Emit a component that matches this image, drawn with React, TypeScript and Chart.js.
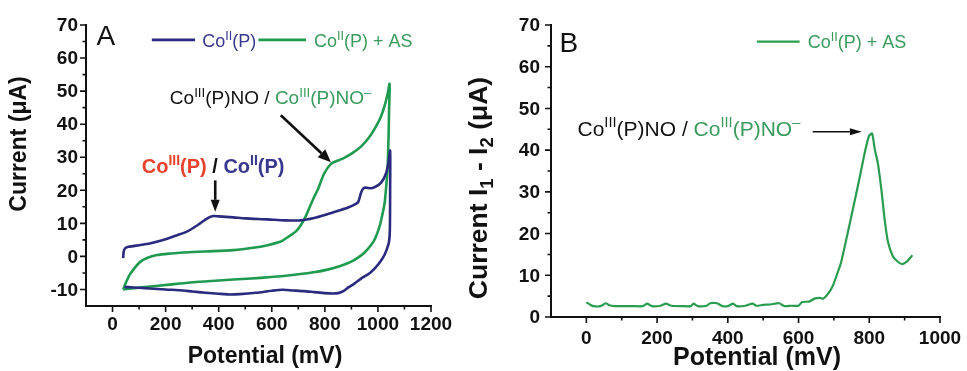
import React, { useEffect, useRef } from "react";
import { Chart, registerables } from "chart.js";

Chart.register(...registerables);

// ---------------- data ----------------
// Panel A : cyclic voltammograms
const A_X_TICKS = [0, 200, 400, 600, 800, 1000, 1200];
const A_X_MINOR = [100, 300, 500, 700, 900, 1100];
const A_Y_TICKS = [-10, 0, 10, 20, 30, 40, 50, 60, 70];
const A_Y_MINOR = [-5, 5, 15, 25, 35, 45, 55, 65];

const BLUE_POTENTIAL = [40, 42, 48, 60, 100, 140, 200, 243, 280, 304, 330, 357, 380, 400, 455, 500, 584, 650, 710, 760, 800, 850, 888, 915, 926, 937, 945, 955, 975, 990, 1013, 1030, 1040, 1046,
  1046, 1045, 1042, 1035, 1025, 1010, 990, 970, 940, 910, 890, 870, 850, 830, 800, 760, 720, 680, 640, 600, 540, 480, 440, 400, 350, 300, 266, 200, 140, 100, 60, 45];
const BLUE_CURRENT = [-0.5, 1.5, 2.5, 2.9, 3.4, 3.9, 5.2, 6.4, 7.5, 8.6, 10, 11.5, 12.2, 12.1, 11.8, 11.5, 11.2, 10.9, 10.9, 11.6, 12.5, 13.8, 14.8, 15.8, 16.5, 19.4, 20.6, 20.8, 20.6, 21, 22.4, 25, 28.5, 32,
  20, 8, 4.5, 2.5, 0.5, -1.5, -3.5, -5, -6.5, -8.3, -9.3, -10.5, -11.1, -11.2, -11.1, -10.8, -10.5, -10.3, -10.1, -10.4, -11, -11.4, -11.5, -11.3, -11, -10.6, -10.3, -10, -9.7, -9.5, -9.3, -9.2];

const GREEN_POTENTIAL = [40, 50, 65, 85, 102, 130, 167, 220, 266, 350, 455, 530, 584, 634, 660, 690, 710, 730, 759, 775, 797, 823, 850, 873, 905, 937, 965, 987, 1010, 1025, 1036, 1044,
  1042, 1040, 1036, 1030, 1025, 1015, 1006, 990, 975, 950, 926, 900, 861, 810, 759, 700, 634, 558, 455, 400, 304, 205, 120, 60, 40];
const GREEN_CURRENT = [-10, -8, -5.5, -3.3, -1.8, -0.5, 0.4, 0.9, 1.2, 1.5, 1.9, 2.6, 3.4, 4.5, 5.8, 7.5, 9.5, 12.5, 17.9, 20.5, 25, 28, 29, 29.8, 31.3, 33.3, 35.8, 38.5, 42, 45.5, 49, 52.2,
  44, 36, 26, 20, 16, 12, 9, 5.5, 3.5, 1.2, -0.3, -1.6, -2.8, -4, -4.8, -5.4, -6, -6.5, -7, -7.3, -7.8, -8.6, -9.3, -9.8, -10];

// Panel B : difference current
const B_X_TICKS = [0, 200, 400, 600, 800, 1000];
const B_X_MINOR = [100, 300, 500, 700, 900];
const B_Y_TICKS = [0, 10, 20, 30, 40, 50, 60, 70];
const B_Y_MINOR = [5, 15, 25, 35, 45, 55, 65];

const DIFF_POTENTIAL = [0, 10, 20, 40, 55, 65, 80, 100, 130, 160, 172, 185, 210, 225, 240, 270, 295, 303, 315, 340, 350, 370, 385, 400, 415, 425, 450, 470, 480, 500, 520, 545, 560, 580, 600, 610, 630, 645, 660, 670, 685, 697, 710, 720, 736, 754, 773, 785, 793, 800, 808, 816, 824, 835, 844, 853, 867, 880, 892, 905, 922];
const DIFF_CURRENT = [3.5, 3.0, 2.6, 2.6, 3.3, 2.8, 2.6, 2.6, 2.6, 2.6, 3.2, 2.6, 2.7, 3.2, 2.7, 2.6, 2.6, 3.2, 2.6, 2.7, 3.3, 3.3, 2.6, 2.6, 3.2, 2.6, 2.7, 3.2, 2.7, 2.9, 3.0, 3.3, 2.6, 2.7, 2.7, 3.6, 3.7, 4.4, 4.6, 4.4, 5.8, 7.5, 10.5, 13, 19, 26, 33.5, 38.5, 41.5, 43.5, 44, 40, 37, 30, 23, 18, 14.5, 13.3, 12.7, 13.2, 14.8];

// ---------------- styling ----------------
const FAM = "'Liberation Sans', Arial, Helvetica, sans-serif";
const INK = "#111111";
const BLUE = "#2a2a7e";
const BLUE_TXT = "#37378e";
const GREEN = "#1f9a4f";
const GREEN_B = "#2a9c4f";
const GREEN_TXT = "#3a9b5c";
const RED = "#e8412c";

type Seg = { t: string; c: string; s?: "sup" | "sub" };

function segWidth(ctx: CanvasRenderingContext2D, seg: Seg, size: number, bold: boolean) {
  const sz = seg.s ? size * 0.7 : size;
  ctx.font = `${bold ? "bold " : ""}${sz}px ${FAM}`;
  return ctx.measureText(seg.t).width;
}

function drawRich(ctx: CanvasRenderingContext2D, segs: Seg[], x: number, y: number, size: number, bold: boolean, align: "left" | "center" = "left") {
  const widths = segs.map((s) => segWidth(ctx, s, size, bold));
  const total = widths.reduce((a, b) => a + b, 0);
  let cx = align === "center" ? x - total / 2 : x;
  ctx.textBaseline = "alphabetic";
  ctx.textAlign = "left";
  segs.forEach((s, i) => {
    const sz = s.s ? size * 0.7 : size;
    ctx.font = `${bold ? "bold " : ""}${sz}px ${FAM}`;
    ctx.fillStyle = s.c;
    const dy = s.s === "sup" ? -size * 0.4 : s.s === "sub" ? size * 0.22 : 0;
    ctx.fillText(s.t, cx, y + dy);
    cx += widths[i];
  });
  return total;
}

function drawArrow(ctx: CanvasRenderingContext2D, x1: number, y1: number, x2: number, y2: number, lw: number, headLen: number, headW: number) {
  const ang = Math.atan2(y2 - y1, x2 - x1);
  const bx = x2 - Math.cos(ang) * headLen;
  const by = y2 - Math.sin(ang) * headLen;
  ctx.strokeStyle = INK;
  ctx.fillStyle = INK;
  ctx.lineWidth = lw;
  ctx.beginPath();
  ctx.moveTo(x1, y1);
  ctx.lineTo(bx, by);
  ctx.stroke();
  const px = -Math.sin(ang) * headW / 2;
  const py = Math.cos(ang) * headW / 2;
  ctx.beginPath();
  ctx.moveTo(x2, y2);
  ctx.lineTo(bx + px, by + py);
  ctx.lineTo(bx - px, by - py);
  ctx.closePath();
  ctx.fill();
}

// tick marks + bold tick labels, all from the scales
function drawAxes(chart: any, xMaj: number[], xMin: number[], yMaj: number[], yMin: number[], xLabelDy: number, yLabelDx: number) {
  const { ctx, chartArea, scales } = chart;
  const xs = scales.x, ys = scales.y;
  ctx.save();
  ctx.strokeStyle = INK;
  ctx.lineWidth = 1.6;
  ctx.beginPath();
  const b = chartArea.bottom, l = chartArea.left;
  xMaj.forEach((v) => { const p = xs.getPixelForValue(v); ctx.moveTo(p, b); ctx.lineTo(p, b + 6); });
  xMin.forEach((v) => { const p = xs.getPixelForValue(v); ctx.moveTo(p, b); ctx.lineTo(p, b + 3.5); });
  yMaj.forEach((v) => { const p = ys.getPixelForValue(v); ctx.moveTo(l, p); ctx.lineTo(l - 6, p); });
  yMin.forEach((v) => { const p = ys.getPixelForValue(v); ctx.moveTo(l, p); ctx.lineTo(l - 3.5, p); });
  ctx.stroke();
  ctx.fillStyle = INK;
  ctx.font = `bold 19px ${FAM}`;
  ctx.textBaseline = "middle";
  ctx.textAlign = "center";
  xMaj.forEach((v) => ctx.fillText(String(v), xs.getPixelForValue(v), b + xLabelDy));
  ctx.textAlign = "right";
  yMaj.forEach((v) => ctx.fillText(String(v), l - yLabelDx, ys.getPixelForValue(v) + 1));
  ctx.restore();
}

const coII = (c: string): Seg[] => [{ t: "Co", c }, { t: "II", c, s: "sup" }, { t: "(P)", c }];
const noPair = (): Seg[] => [
  { t: "Co", c: INK }, { t: "III", c: INK, s: "sup" }, { t: "(P)NO / ", c: INK },
  { t: "Co", c: GREEN_TXT }, { t: "III", c: GREEN_TXT, s: "sup" }, { t: "(P)NO", c: GREEN_TXT }, { t: "\u2013", c: GREEN_TXT, s: "sup" },
];

const plugA = {
  id: "plugA",
  afterDraw(chart: any) {
    const { ctx, scales } = chart;
    const X = (v: number) => scales.x.getPixelForValue(v);
    const Y = (v: number) => scales.y.getPixelForValue(v);
    drawAxes(chart, A_X_TICKS, A_X_MINOR, A_Y_TICKS, A_Y_MINOR, 19, 8);
    ctx.save();
    // panel letter
    ctx.font = `28px ${FAM}`;
    ctx.fillStyle = INK;
    ctx.textBaseline = "alphabetic";
    ctx.textAlign = "left";
    ctx.fillText("A", X(-60), Y(64));
    // legend
    ctx.lineWidth = 2.8;
    ctx.strokeStyle = BLUE;
    ctx.beginPath(); ctx.moveTo(X(148), Y(65.5)); ctx.lineTo(X(311), Y(65.5)); ctx.stroke();
    drawRich(ctx, coII(BLUE_TXT), X(338), Y(63.3), 18, false);
    ctx.strokeStyle = GREEN;
    ctx.beginPath(); ctx.moveTo(X(550), Y(65.5)); ctx.lineTo(X(729), Y(65.5)); ctx.stroke();
    drawRich(ctx, [...coII(GREEN_TXT), { t: " + AS", c: GREEN_TXT }], X(759), Y(63.3), 18, false);
    // annotations
    drawRich(ctx, noPair(), X(216), Y(46), 19, false);
    drawArrow(ctx, X(634), Y(42.7), X(823), Y(28.5), 2.6, 13, 11);
    drawRich(ctx, [
      { t: "Co", c: RED }, { t: "III", c: RED, s: "sup" }, { t: "(P)", c: RED }, { t: " / ", c: INK },
      { t: "Co", c: BLUE_TXT }, { t: "II", c: BLUE_TXT, s: "sup" }, { t: "(P)", c: BLUE_TXT },
    ], X(110), Y(25.3), 20, true);
    drawArrow(ctx, X(387), Y(23), X(387), Y(13.5), 2.6, 12, 9);
    // axis titles
    ctx.fillStyle = INK;
    ctx.font = `bold 23px ${FAM}`;
    ctx.textAlign = "center";
    ctx.textBaseline = "middle";
    ctx.fillText("Potential (mV)", 265, 357);
    ctx.save();
    ctx.translate(20, 144);
    ctx.rotate(-Math.PI / 2);
    ctx.fillText("Current (\u03bcA)", 0, 0);
    ctx.restore();
    ctx.restore();
  },
};

const B_LEFT = 455; // left of canvas B on the page

const plugB = {
  id: "plugB",
  afterDraw(chart: any) {
    const { ctx, scales } = chart;
    const X = (v: number) => scales.x.getPixelForValue(v);
    const Y = (v: number) => scales.y.getPixelForValue(v);
    drawAxes(chart, B_X_TICKS, B_X_MINOR, B_Y_TICKS, B_Y_MINOR, 22, 11);
    ctx.save();
    ctx.font = `28px ${FAM}`;
    ctx.fillStyle = INK;
    ctx.textBaseline = "alphabetic";
    ctx.textAlign = "left";
    ctx.fillText("B", X(-76), Y(63.5));
    // legend
    ctx.lineWidth = 2.2;
    ctx.strokeStyle = GREEN_B;
    ctx.beginPath(); ctx.moveTo(X(482), Y(66)); ctx.lineTo(X(603), Y(66)); ctx.stroke();
    drawRich(ctx, [...coII(GREEN_TXT), { t: " + AS", c: GREEN_TXT }], X(626), Y(64.5), 18, false);
    // annotation
    drawRich(ctx, noPair(), X(-25), Y(43.5), 21, false);
    drawArrow(ctx, X(640), Y(44.4), X(779), Y(44.4), 1.6, 12, 7);
    // axis titles
    ctx.fillStyle = INK;
    ctx.font = `bold 25px ${FAM}`;
    ctx.textAlign = "center";
    ctx.textBaseline = "middle";
    ctx.fillText("Potential (mV)", 757 - B_LEFT, 358);
    ctx.save();
    ctx.translate(478 - B_LEFT, 188);
    ctx.rotate(-Math.PI / 2);
    drawRich(ctx, [
      { t: "Current I", c: INK }, { t: "1", c: INK, s: "sub" }, { t: " - I", c: INK }, { t: "2", c: INK, s: "sub" }, { t: " (\u03bcA)", c: INK },
    ], 0, 9, 26.5, true, "center");
    ctx.restore();
    ctx.restore();
  },
};

function axisCfg(min: number, max: number, ticks: number[], fit: (s: any) => void) {
  return {
    type: "linear",
    min,
    max,
    afterBuildTicks: (s: any) => { s.ticks = ticks.map((v) => ({ value: v })); },
    afterFit: fit,
    ticks: { display: false },
    grid: { display: false, drawTicks: false },
    border: { display: true, color: INK, width: 2 },
  };
}

function pts(xs: number[], ys: number[]) {
  return xs.map((x, i) => ({ x, y: ys[i] }));
}

export default function App() {
  const refA = useRef<HTMLCanvasElement>(null);
  const refB = useRef<HTMLCanvasElement>(null);

  useEffect(() => {
    document.body.style.margin = "0";
    const chartA = new Chart(refA.current as HTMLCanvasElement, {
      type: "scatter",
      data: {
        datasets: [
          { data: pts(BLUE_POTENTIAL, BLUE_CURRENT), showLine: true, borderColor: BLUE, borderWidth: 2.6, pointRadius: 0, tension: 0.25, fill: false },
          { data: pts(GREEN_POTENTIAL, GREEN_CURRENT), showLine: true, borderColor: GREEN, borderWidth: 2.6, pointRadius: 0, tension: 0.25, fill: false },
        ],
      } as any,
      options: {
        animation: false,
        responsive: false,
        events: [],
        layout: { padding: { top: 25, right: 29, left: 0, bottom: 0 } },
        plugins: { legend: { display: false }, tooltip: { enabled: false } },
        scales: {
          x: axisCfg(-100, 1200, A_X_TICKS, (s: any) => { s.height = 65; }),
          y: axisCfg(-15, 70, A_Y_TICKS, (s: any) => { s.width = 86; }),
        },
      } as any,
      plugins: [plugA],
    });
    const chartB = new Chart(refB.current as HTMLCanvasElement, {
      type: "scatter",
      data: {
        datasets: [
          { data: pts(DIFF_POTENTIAL, DIFF_CURRENT), showLine: true, borderColor: GREEN_B, borderWidth: 2.2, pointRadius: 0, tension: 0.2, fill: false },
        ],
      } as any,
      options: {
        animation: false,
        responsive: false,
        events: [],
        layout: { padding: { top: 25, right: 27, left: 0, bottom: 0 } },
        plugins: { legend: { display: false }, tooltip: { enabled: false } },
        scales: {
          x: axisCfg(-100, 1000, B_X_TICKS, (s: any) => { s.height = 54; }),
          y: axisCfg(0, 70, B_Y_TICKS, (s: any) => { s.width = 551 - B_LEFT; }),
        },
      } as any,
      plugins: [plugB],
    });
    return () => { chartA.destroy(); chartB.destroy(); };
  }, []);

  return (
    <div style={{ position: "absolute", left: 0, top: 0, width: 967, height: 371, background: "#ffffff", overflow: "hidden" }}>
      <canvas ref={refA} width={460} height={371} style={{ position: "absolute", left: 0, top: 0, width: 460, height: 371 }} />
      <canvas ref={refB} width={967 - B_LEFT} height={371} style={{ position: "absolute", left: B_LEFT, top: 0, width: 967 - B_LEFT, height: 371 }} />
    </div>
  );
}
